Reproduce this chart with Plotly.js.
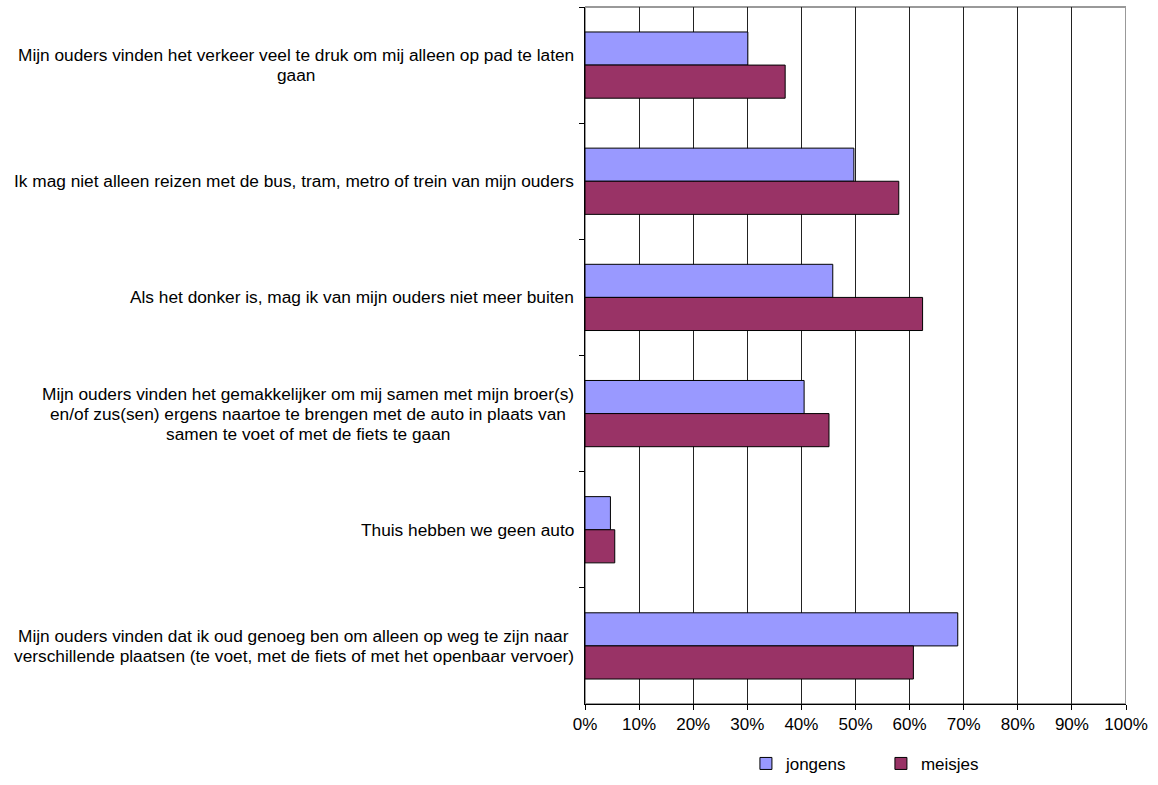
<!DOCTYPE html>
<html>
<head>
<meta charset="utf-8">
<script src="https://cdn.plot.ly/plotly-3.0.1.min.js"></script>
<style>html,body{margin:0;padding:0;background:#fff;}#chart{width:1158px;height:785px;}</style>
</head>
<body>
<div id="chart"></div>
<script>
const categories = [
  "Mijn ouders vinden het verkeer veel te druk om mij alleen op pad te laten<br>gaan",
  "Ik mag niet alleen reizen met de bus, tram, metro of trein van mijn ouders",
  "Als het donker is, mag ik van mijn ouders niet meer buiten",
  "Mijn ouders vinden het gemakkelijker om mij samen met mijn broer(s)<br>en/of zus(sen) ergens naartoe te brengen met de auto in plaats van<br>samen te voet of met de fiets te gaan",
  "Thuis hebben we geen auto",
  "Mijn ouders vinden dat ik oud genoeg ben om alleen op weg te zijn naar<br>verschillende plaatsen (te voet, met de fiets of met het openbaar vervoer)"
];
const jongens = [30.1, 49.7, 45.8, 40.5, 4.7, 68.9];
const meisjes = [37.0, 58.0, 62.4, 45.1, 5.5, 60.7];
const seriesNames = ["jongens", "meisjes"];
const xTickVals = [0, 10, 20, 30, 40, 50, 60, 70, 80, 90, 100];
const xTickText = ["0%", "10%", "20%", "30%", "40%", "50%", "60%", "70%", "80%", "90%", "100%"];

const FONT = "Liberation Sans, Arial, sans-serif";
const FS = 17;
const LABEL_FS = 17.3;
const LINE_H = 20;

const traces = [
  {type: "bar", orientation: "h", name: seriesNames[0], x: jongens, y: categories,
   marker: {color: "#9999FF", line: {color: "#000", width: 1}}, hoverinfo: "x+name"},
  {type: "bar", orientation: "h", name: seriesNames[1], x: meisjes, y: categories,
   marker: {color: "#993366", line: {color: "#000", width: 1}}, hoverinfo: "x+name"}
];

// measure label lines so each multi-line block can be centred, right-aligned to the axis
const ctx = document.createElement("canvas").getContext("2d");
ctx.font = LABEL_FS + "px 'Liberation Sans'";
const annotations = [];
categories.forEach(c => {
  const lines = c.split("<br>");
  const maxW = Math.max(...lines.map(l => ctx.measureText(l).width));
  const n = lines.length;
  lines.forEach((l, i) => {
    annotations.push({
      xref: "paper", x: 0, xanchor: "center", xshift: -11 - maxW / 2,
      yref: "y", y: c, yanchor: "middle", yshift: ((n - 1) / 2 - i) * LINE_H,
      text: l, showarrow: false, align: "center",
      font: {family: FONT, size: LABEL_FS, color: "#000"}
    });
  });
});

const H = 785, T = 7, AXIS_Y = 704;
const plotH = H - T;
const layout = {
  width: 1158, height: H,
  margin: {l: 585, r: 32, t: T, b: 0},
  paper_bgcolor: "#fff", plot_bgcolor: "#fff",
  font: {family: FONT, size: FS, color: "#000"},
  barmode: "group", bargap: 0.43, bargroupgap: 0,
  xaxis: {
    range: [0, 100], tickvals: xTickVals, ticktext: xTickText,
    showgrid: true, gridcolor: "#222", gridwidth: 1,
    showline: true, linecolor: "#000", linewidth: 1,
    ticks: "outside", ticklen: 5, tickcolor: "#000",
    tickfont: {family: FONT, size: FS, color: "#000"},
    zeroline: false, fixedrange: true, anchor: "y"
  },
  yaxis: {
    type: "category", autorange: "reversed",
    domain: [(H - AXIS_Y) / plotH, 1],
    showticklabels: false, showgrid: false, zeroline: false,
    showline: true, linecolor: "#000", linewidth: 1,
    ticks: "outside", ticklen: 5, tickcolor: "#000", tickson: "boundaries",
    fixedrange: true
  },
  shapes: [{type: "rect", xref: "x", yref: "y domain", x0: 0, x1: 100, y0: 0, y1: 1,
            line: {color: "#999", width: 2}, layer: "below"}],
  annotations: annotations,
  legend: {orientation: "h", x: 0.547, xanchor: "center",
           y: 0.004, yanchor: "bottom",
           font: {family: FONT, size: FS, color: "#000"}, itemwidth: 30,
           entrywidth: 90, traceorder: "normal"},
  showlegend: true
};

Plotly.newPlot("chart", traces, layout, {displayModeBar: false});
</script>
</body>
</html>
